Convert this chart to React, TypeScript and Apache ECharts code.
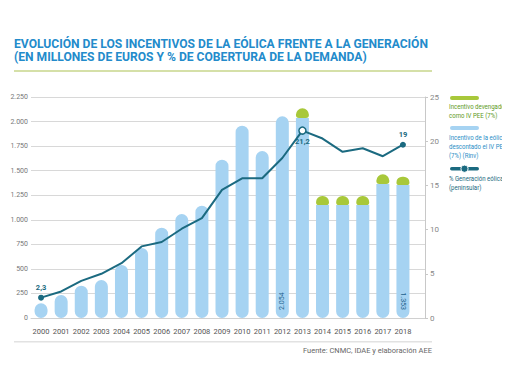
import React, { useEffect, useRef } from "react";
import * as echarts from "echarts";

const years = ["2000","2001","2002","2003","2004","2005","2006","2007","2008","2009","2010","2011","2012","2013","2014","2015","2016","2017","2018"];
const rinvValues = [150, 234, 329, 387, 540, 713, 920, 1059, 1144, 1612, 1958, 1700, 2054, 2035, 1150, 1150, 1150, 1365, 1353];
const peeValues = [0, 0, 0, 0, 0, 0, 0, 0, 0, 0, 0, 0, 0, 100, 92, 92, 92, 98, 86];
const windShare = [2.3, 3.0, 4.2, 5.0, 6.2, 8.1, 8.6, 10.1, 11.3, 14.5, 15.8, 15.8, 18.1, 21.2, 20.3, 18.8, 19.2, 18.3, 19.6];
const shareLabels: Record<number, string> = { 0: "2,3", 13: "21,2", 18: "19" };
const barLabelIdx: Record<number, number> = { 12: 90, 18: -90 };
const leftTicks = { min: 0, max: 2250, interval: 250 };
const rightTicks = { min: 0, max: 25, interval: 5 };

const fmtEs = (v: number) => String(v).replace(/\B(?=(\d{3})+(?!\d))/g, ".");

const BLUE = "#a6d3f2";
const GREEN = "#a8c83a";
const TEAL = "#1b6a80";

export default function App() {
  const ref = useRef<HTMLDivElement>(null);
  useEffect(() => {
    if (!ref.current) return;
    const chart = echarts.init(ref.current, undefined, { renderer: "svg" });
    const font = "'Liberation Sans Narrow', 'Roboto', sans-serif";
    const lab = "'Roboto', 'Liberation Sans', sans-serif";

    const blueData = rinvValues.map((v, i) => {
      const item: any = {
        value: v,
        itemStyle: { borderRadius: peeValues[i] > 0 ? [0, 0, 7, 7] : 7 },
      };
      if (barLabelIdx[i] !== undefined) {
        const r = barLabelIdx[i];
        item.label = {
          show: true,
          position: "insideBottom",
          rotate: r,
          distance: 8,
          align: r > 0 ? "left" : "right",
          verticalAlign: "middle",
          formatter: () => fmtEs(v),
          color: "#1d5f8c",
          fontSize: 7,
          fontFamily: lab,
        };
      }
      return item;
    });
    const greenData = peeValues.map((v) => (v > 0 ? v : "-"));
    const lineData = windShare.map((v, i) => {
      const item: any = { value: v };
      if (shareLabels[i] !== undefined) {
        item.symbol = "circle";
        item.symbolSize = i === 13 ? 7 : 6;
        item.itemStyle = i === 13 ? { color: "#fff", borderColor: TEAL, borderWidth: 1.5 } : { color: TEAL };
        item.label = {
          show: true,
          position: i === 13 ? "bottom" : "top",
          distance: 3,
          formatter: () => shareLabels[i],
          color: TEAL,
          fontSize: 7.5,
          fontWeight: "bold",
          fontFamily: lab,
        };
      } else {
        item.symbol = "none";
      }
      return item;
    });

    const legendText = (y: number, text: string, fill: string) => ({
      type: "text", x: 449, y, scaleX: 0.78, scaleY: 1,
      style: { text, fill, font: `7.8px ${font}`, lineHeight: 8.8, verticalAlign: "top", align: "left" },
    });

    chart.setOption({
      animation: false,
      grid: [
        { left: 31, right: 85, top: 97, height: 221 },
        { left: 31, right: 97, top: 97, height: 221 },
      ],
      xAxis: [
        {
          gridIndex: 0, type: "category", data: years,
          axisLine: { show: true, lineStyle: { color: "#d0d0d0", width: 1 } },
          axisTick: { show: false }, axisLabel: { show: false },
        },
        {
          gridIndex: 1, type: "category", data: years,
          axisLine: { show: false }, axisTick: { show: false },
          axisLabel: { color: "#555", fontSize: 7.5, margin: 9, fontFamily: lab, interval: 0 },
        },
      ],
      yAxis: [
        {
          gridIndex: 0, type: "value", ...leftTicks,
          axisLine: { show: false }, axisTick: { show: false },
          axisLabel: { color: "#777", fontSize: 7, margin: 3, fontFamily: lab, formatter: (v: number) => fmtEs(v) },
          splitLine: { lineStyle: { color: "#d8d8d8", width: 1 } },
        },
        {
          gridIndex: 0, type: "value", position: "right", ...rightTicks,
          axisLine: { show: true, lineStyle: { color: "#c8c8c8" } },
          axisTick: { show: true, length: 3, lineStyle: { color: "#c8c8c8" } },
          axisLabel: { color: "#888", fontSize: 8, margin: 5, fontFamily: lab },
          splitLine: { show: false },
        },
        { gridIndex: 1, type: "value", ...leftTicks, show: false },
        { gridIndex: 1, type: "value", ...rightTicks, show: false },
      ],
      series: [
        {
          name: "Rinv", type: "bar", xAxisIndex: 1, yAxisIndex: 2, stack: "a",
          barWidth: 13, data: blueData, itemStyle: { color: BLUE },
        },
        {
          name: "PEE", type: "bar", xAxisIndex: 1, yAxisIndex: 2, stack: "a",
          barWidth: 13, data: greenData, itemStyle: { color: GREEN, borderRadius: [7, 7, 3, 3] },
        },
        {
          name: "Gen", type: "line", xAxisIndex: 1, yAxisIndex: 3, data: lineData,
          lineStyle: { color: TEAL, width: 2 }, itemStyle: { color: TEAL }, z: 5,
        },
      ],
      graphic: [
        { type: "text", left: 14, top: 38, style: { text: "EVOLUCIÓN DE LOS INCENTIVOS DE LA EÓLICA FRENTE A LA GENERACIÓN", fill: "#238bcb", font: `bold 12.1px ${font}` } },
        { type: "text", left: 14, top: 51, style: { text: "(EN MILLONES DE EUROS Y % DE COBERTURA DE LA DEMANDA)", fill: "#238bcb", font: `bold 12.1px ${font}` } },
        { type: "rect", shape: { x: 14, y: 70, width: 418, height: 2 }, style: { fill: "#d5e0a8" } },
        { type: "rect", shape: { x: 14, y: 341, width: 418, height: 1.5 }, style: { fill: "#e2e2e2" } },
        { type: "text", right: 78, top: 346, style: { text: "Fuente: CNMC, IDAE y elaboración AEE", fill: "#666", font: `7.5px ${lab}` } },
        // legend
        { type: "rect", shape: { x: 450, y: 96, width: 29, height: 4, r: 2 }, style: { fill: GREEN } },
        legendText(102.5, "Incentivo devengado\ncomo IV PEE (7%)", "#5e9a22"),
        { type: "rect", shape: { x: 450, y: 126, width: 29, height: 4, r: 2 }, style: { fill: BLUE } },
        legendText(133.5, "Incentivo de la eólica\ndescontado el IV PEE\n(7%) (Rinv)", "#2a8ec6"),
        { type: "rect", shape: { x: 450, y: 167, width: 29, height: 3.5, r: 1.7 }, style: { fill: TEAL } },
        { type: "circle", shape: { cx: 464.5, cy: 168.7, r: 3.6 }, style: { fill: TEAL, stroke: "#fff", lineWidth: 1 } },
        legendText(174.5, "% Generación eólica\n(peninsular)", TEAL),
      ],
    });
    return () => chart.dispose();
  }, []);
  return <div ref={ref} style={{ width: 510, height: 382, margin: -8 }} />;
}
